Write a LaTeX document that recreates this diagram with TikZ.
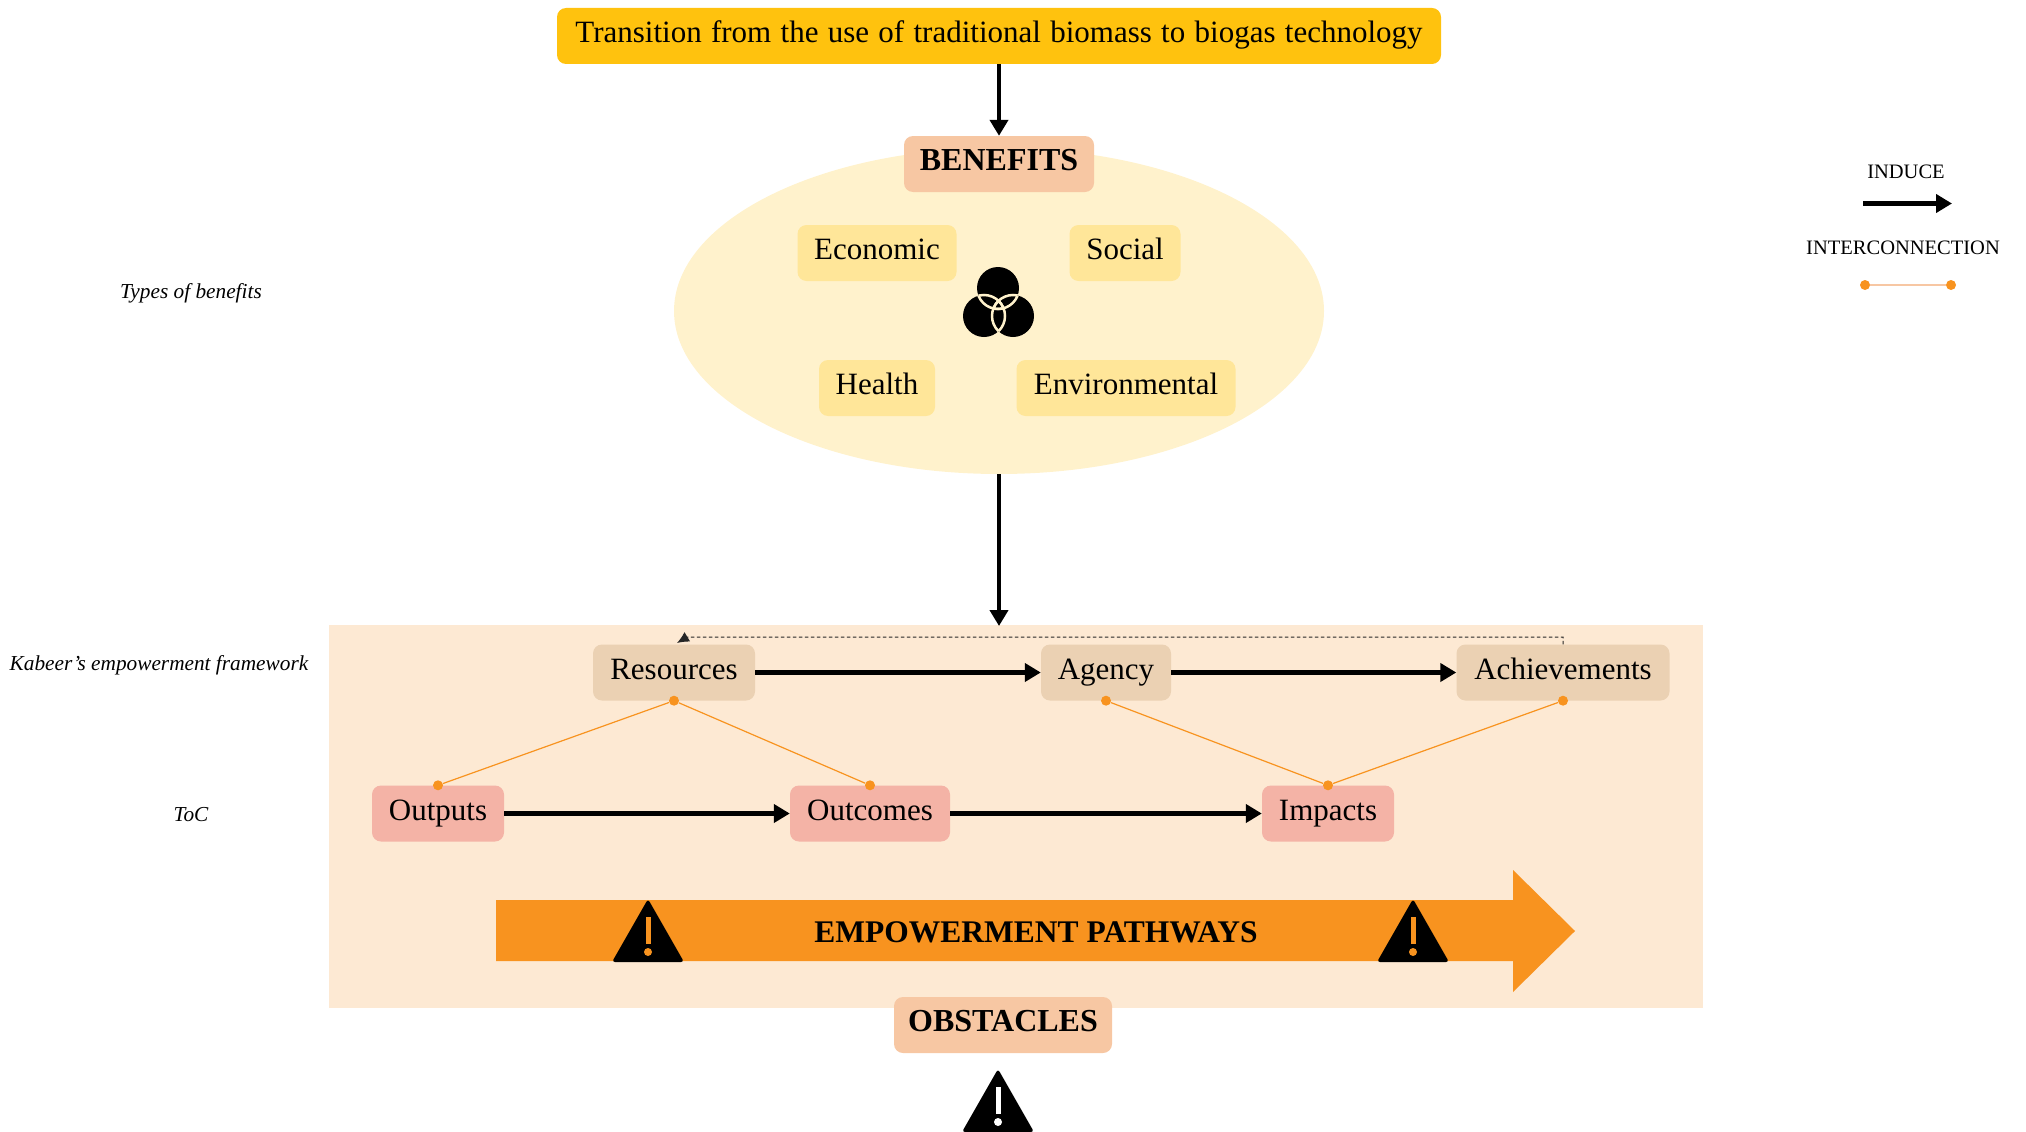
\documentclass[tikz,border=0pt]{standalone}
\usepackage{fontspec}
\setmainfont{Liberation Serif}
\usetikzlibrary{arrows.meta}
\definecolor{topyellow}{HTML}{FFC20E}
\definecolor{headpeach}{HTML}{F7C7A3}
\definecolor{ovalcream}{HTML}{FFF2CC}
\definecolor{typeyellow}{HTML}{FFE699}
\definecolor{panelpeach}{HTML}{FDE9D3}
\definecolor{kabeertan}{HTML}{EBD1B3}
\definecolor{tocpink}{HTML}{F4B3A6}
\definecolor{pathorange}{HTML}{F8931F}
\tikzset{
    box/.style={rounded corners=9pt, inner sep=0pt, minimum height=56pt, text height=20pt, text depth=7pt, font=\fontsize{31}{36}\selectfont},
    headbox/.style={box, fill=headpeach, font=\fontsize{32}{36}\selectfont\bfseries},
    typebox/.style={box, fill=typeyellow},
    kabeerbox/.style={box, fill=kabeertan},
    tocbox/.style={box, fill=tocpink},
    sidelabel/.style={inner sep=0pt, font=\fontsize{21.3}{24}\selectfont\itshape},
    legendlabel/.style={inner sep=0pt, font=\fontsize{20.5}{24}\selectfont},
    induce/.style={line width=5.5pt, -{Triangle[length=16pt,width=18pt]}},
    dot/.style={circle, fill=pathorange, inner sep=0pt, minimum size=10pt},
    interconnect/.style={draw=pathorange, line width=1.2pt},
    feedback/.style={line width=1pt, draw=black!85, dash pattern=on 3.5pt off 2.5pt, -{Latex[length=12pt,width=11pt]}},
    pics/warnsign/.style={code={
        \fill[black, rounded corners=3pt] (-36,30) -- (0,-33) -- (36,30) -- cycle;
        \fill[#1] (-2.5,-15) rectangle (2.5,12);
        \fill[#1] (0,20) circle (4);
    }}
}
\begin{document}
\begin{tikzpicture}[x=1pt,y=-1pt]
    \useasboundingbox (0,0) rectangle (2026,1132);

    % benefits oval
    \fill[ovalcream] (999,311) ellipse (325 and 163);
    \coordinate (ovalbottom) at (999,474);
    \fill[panelpeach] (329,625) rectangle (1703,1008);
    \coordinate (paneltop) at (999,626);

    \node[box, fill=topyellow, minimum width=884pt] (transition) at (999,36)
        {\spaceskip=9.3pt Transition from the use of traditional biomass to biogas technology};
    \node[headbox, minimum width=190pt] (benefits) at (999,164) {BENEFITS};
    \node[typebox, minimum width=159pt] (economic) at (877,253) {Economic};
    \node[typebox, minimum width=111pt] (social) at (1125,253) {Social};
    \node[typebox, minimum width=116pt] (health) at (877,388) {Health};
    \node[typebox, minimum width=219pt] (environmental) at (1126,388) {Environmental};

    \draw[induce, line width=4pt] (transition) -- (benefits);
    \draw[induce, line width=4pt] (ovalbottom) -- (paneltop);

    % venn sign
    \fill (998,288) circle (21);
    \fill (984,316) circle (21);
    \fill (1013,316) circle (21);
    \foreach \ca/\cb/\da/\db in {998/288/984/316,998/288/1013/316,984/316/998/288,984/316/1013/316,1013/316/998/288,1013/316/984/316} {
        \begin{scope}
            \clip (\ca,\cb) circle (21);
            \draw[ovalcream, line width=2.5pt] (\da,\db) circle (21);
        \end{scope}
    }

    % kabeer row
    \node[kabeerbox, minimum width=162pt] (resources) at (674,672.5) {Resources};
    \node[kabeerbox, minimum width=130pt] (agency) at (1106,672.5) {Agency};
    \node[kabeerbox, minimum width=213pt] (achievements) at (1563,672.5) {Achievements};
    \draw[induce] (resources) -- (agency);
    \draw[induce] (agency) -- (achievements);
    \coordinate (loopcorner) at (687,637);
    \coordinate (looptip) at (677,643);
    \draw[feedback] (achievements.north) |- (loopcorner) -- (looptip);

    % toc row
    \node[tocbox, minimum width=132pt] (outputs) at (438,813.5) {Outputs};
    \node[tocbox, minimum width=160pt] (outcomes) at (870,813.5) {Outcomes};
    \node[tocbox, minimum width=132pt] (impacts) at (1328,813.5) {Impacts};
    \draw[induce] (outputs) -- (outcomes);
    \draw[induce] (outcomes) -- (impacts);

    % interconnections
    \node[dot] (resdot) at (resources.south) {};
    \node[dot] (agdot) at (agency.south) {};
    \node[dot] (achdot) at (achievements.south) {};
    \node[dot] (outdot) at (outputs.north) {};
    \node[dot] (ocdot) at (outcomes.north) {};
    \node[dot] (impdot) at (impacts.north) {};
    \draw[interconnect] (resdot) -- (outdot);
    \draw[interconnect] (resdot) -- (ocdot);
    \draw[interconnect] (agdot) -- (impdot);
    \draw[interconnect] (achdot) -- (impdot);

    % pathway arrow
    \fill[pathorange] (496,900) -- (1513,900) -- (1513,870) -- (1575,931) -- (1513,992) -- (1513,961) -- (496,961) -- cycle;
    \node[inner sep=0pt, font=\fontsize{31.5}{36}\selectfont\bfseries] (pathways) at (1036,932) {EMPOWERMENT PATHWAYS};
    \pic at (648,932) {warnsign=pathorange};
    \pic at (1413,932) {warnsign=pathorange};

    \node[headbox, minimum width=218pt] (obstacles) at (1003,1025) {OBSTACLES};
    \pic at (998,1102) {warnsign=white};

    % side labels
    \node[sidelabel] (typeslabel) at (191,293) {Types of benefits};
    \node[sidelabel] (kabeerlabel) at (159,665) {Kabeer's empowerment framework};
    \node[sidelabel] (toclabel) at (191,815) {ToC};

    % legend
    \node[legendlabel] (inducelabel) at (1906,172) {INDUCE};
    \coordinate (inducea) at (1863,203.5);
    \coordinate (induceb) at (1952,203.5);
    \draw[induce] (inducea) -- (induceb);
    \node[legendlabel] (interlabel) at (1903,248) {INTERCONNECTION};
    \node[dot] (intera) at (1865,285) {};
    \node[dot] (interb) at (1951,285) {};
    \draw[interconnect, draw=headpeach] (intera) -- (interb);
\end{tikzpicture}
\end{document}
